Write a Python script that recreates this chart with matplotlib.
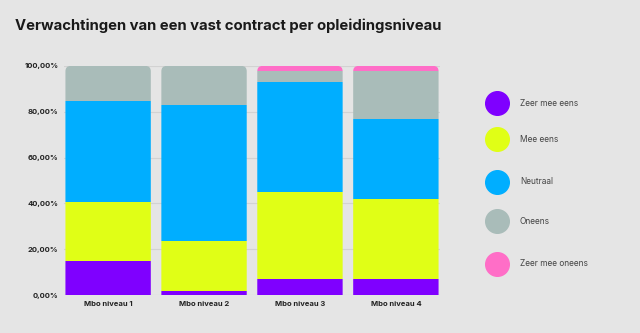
import matplotlib.pyplot as plt
import numpy as np
from matplotlib.lines import Line2D
from matplotlib.patches import FancyBboxPatch

categories = ['Mbo niveau 1', 'Mbo niveau 2', 'Mbo niveau 3', 'Mbo niveau 4']
series = ['Zeer mee eens', 'Mee eens', 'Neutraal', 'Oneens', 'Zeer mee oneens']
zeer_mee_eens = [14.8, 1.7, 6.9, 6.9]
mee_eens = [25.9, 22.0, 37.9, 34.9]
neutraal = [44.1, 59.1, 48.1, 35.1]
oneens = [15.2, 17.2, 5.0, 21.0]
zeer_mee_oneens = [0.0, 0.0, 2.1, 2.1]
colors = ['#7f00ff', '#e0ff16', '#00aeff', '#a9bcb9', '#ff6ec7']

bg = '#e5e5e5'
width = 0.89


def main():
    fig = plt.figure(figsize=(6.4, 3.33), dpi=100, facecolor=bg)
    ax = fig.add_axes([0.1, 0.114, 0.5875, 0.688], facecolor=bg)

    x = np.arange(len(categories))
    bottom = np.zeros(len(categories))
    values = [zeer_mee_eens, mee_eens, neutraal, oneens, zeer_mee_oneens]
    containers = []
    for vals, col in zip(values, colors):
        bc = ax.bar(x, vals, bottom=bottom, width=width, color=col, zorder=2)
        containers.append(bc)
        bottom += np.array(vals)

    # rounded top corners, clip every column to a rounded box
    for i in range(len(categories)):
        clip = FancyBboxPatch((x[i] - width / 2, -20), width, 120,
                              boxstyle='round,pad=0,rounding_size=0.055',
                              mutation_aspect=42, transform=ax.transData)
        for bc in containers:
            bc.patches[i].set_clip_path(clip)

    ax.set_xlim(-0.46, 3.46)
    ax.set_ylim(0, 100)
    ax.set_yticks(np.arange(0, 101, 20))
    ax.set_yticklabels(['%d,00%%' % v for v in range(0, 101, 20)],
                       fontsize=5.5, fontweight='bold', color='#222222',
                       family='Inter')
    ax.set_xticks(x)
    ax.set_xticklabels(categories, fontsize=5.5, fontweight='bold',
                       color='#222222', family='Inter')
    ax.tick_params(length=0, pad=4)
    ax.grid(axis='y', color='#d2d2d2', linewidth=0.8, zorder=0)
    for s in ax.spines.values():
        s.set_visible(False)

    fig.text(0.023, 0.91, 'Verwachtingen van een vast contract per opleidingsniveau',
             fontsize=10.7, fontweight='bold', color='#1a1a1a', family='Inter')

    # legend
    leg_y = [103, 139, 182, 221, 264]
    for name, col, py in zip(series, colors, leg_y):
        fy = 1 - py / 333
        fig.add_artist(Line2D([497 / 640], [fy], marker='o', markersize=17,
                              color=col, linestyle='none',
                              transform=fig.transFigure))
        fig.text(520 / 640, fy, name, fontsize=6, color='#444444',
                 va='center', family='Inter')

    fig.savefig('out.png', dpi=100, facecolor=bg)


if __name__ == "__main__":
    main()
